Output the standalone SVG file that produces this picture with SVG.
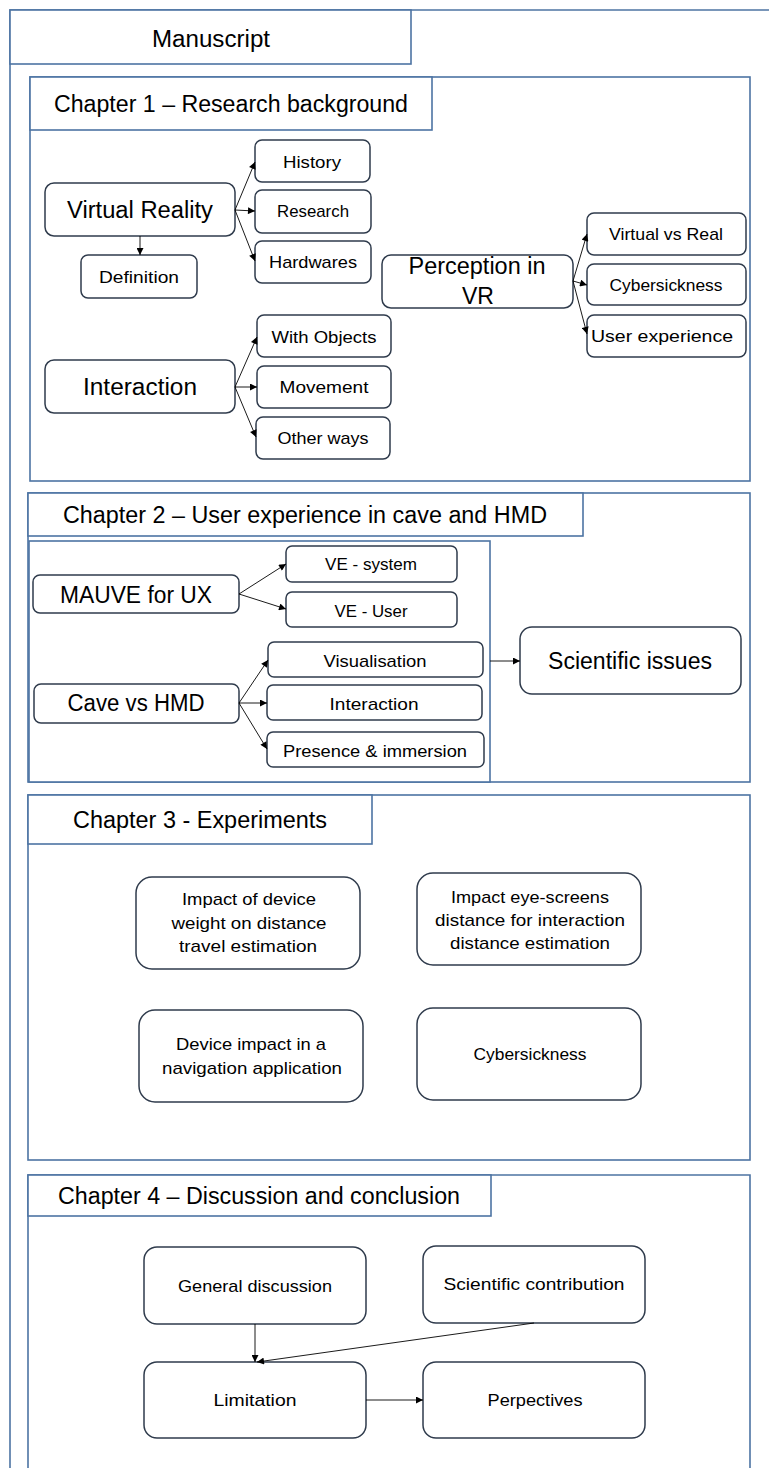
<svg xmlns="http://www.w3.org/2000/svg" width="769" height="1468" viewBox="0 0 769 1468">
<style>
.frame{fill:#fff;stroke:#4d74a3;stroke-width:1.6}
.node{fill:#fff;stroke:#2f3b4c;stroke-width:1.5}
.t{font-family:"Liberation Sans",Arial,sans-serif;fill:#000;text-anchor:middle}
.big{font-size:23px}
.sm{font-size:17px}
.title{font-family:"Liberation Sans",Arial,sans-serif;fill:#000;font-size:23px}
.conn{fill:none;stroke:#000;stroke-width:0.9}
</style>
<defs>
<marker id="ah" viewBox="0 0 10 10" refX="10" refY="5" markerWidth="8" markerHeight="7" markerUnits="userSpaceOnUse" orient="auto"><path d="M0,0 L10,5 L0,10 z" fill="#000"/></marker>
</defs>
<rect width="769" height="1468" fill="#fff"/>
<g id="manuscript">
<path class="frame" d="M10,1470 V10 H771" fill="none"/>
<rect class="frame" x="10" y="10" width="401" height="54"/>
<text class="title" x="211" y="47" text-anchor="middle" textLength="118" lengthAdjust="spacingAndGlyphs">Manuscript</text>
</g>
<g id="chapter1">
<rect class="frame" x="30" y="77" width="720" height="404"/>
<rect class="frame" x="30" y="77" width="402" height="53"/>
<text class="title" x="54" y="112" textLength="354" lengthAdjust="spacingAndGlyphs">Chapter 1 – Research background</text>
</g>
<g id="chapter2">
<rect class="frame" x="28" y="493" width="722" height="289"/>
<rect class="frame" x="28" y="493" width="555" height="43"/>
<text class="title" x="63" y="523" textLength="484" lengthAdjust="spacingAndGlyphs">Chapter 2 – User experience in cave and HMD</text>
<rect id="ch2-inner" class="frame" x="29" y="541" width="461" height="241"/>
</g>
<g id="chapter3">
<rect class="frame" x="28" y="795" width="722" height="365"/>
<rect class="frame" x="28" y="795" width="344" height="49"/>
<text class="title" x="73" y="828" textLength="254" lengthAdjust="spacingAndGlyphs">Chapter 3 - Experiments</text>
</g>
<g id="chapter4">
<path class="frame" d="M28,1470 V1175 H750 V1470" fill="none"/>
<rect class="frame" x="28" y="1175" width="463" height="41"/>
<text class="title" x="58" y="1204" textLength="402" lengthAdjust="spacingAndGlyphs">Chapter 4 – Discussion and conclusion</text>
</g>

<g id="virtual-reality"><rect class="node" x="45" y="183" width="190" height="53" rx="9"/><text class="t big" x="140" y="218" textLength="146" lengthAdjust="spacingAndGlyphs">Virtual Reality</text></g>
<g id="history"><rect class="node" x="255" y="140" width="115" height="42" rx="7"/><text class="t sm" x="312" y="168" textLength="58" lengthAdjust="spacingAndGlyphs">History</text></g>
<g id="research"><rect class="node" x="255" y="190" width="116" height="43" rx="7"/><text class="t sm" x="313" y="217" textLength="72" lengthAdjust="spacingAndGlyphs">Research</text></g>
<g id="hardwares"><rect class="node" x="255" y="241" width="116" height="42" rx="7"/><text class="t sm" x="313" y="268" textLength="88" lengthAdjust="spacingAndGlyphs">Hardwares</text></g>
<g id="definition"><rect class="node" x="81" y="255" width="116" height="43" rx="7"/><text class="t sm" x="139" y="283" textLength="80" lengthAdjust="spacingAndGlyphs">Definition</text></g>
<g id="interaction"><rect class="node" x="45" y="360" width="190" height="53" rx="9"/><text class="t big" x="140" y="395" textLength="114" lengthAdjust="spacingAndGlyphs">Interaction</text></g>
<g id="with-objects"><rect class="node" x="257" y="315" width="134" height="42" rx="7"/><text class="t sm" x="324" y="343" textLength="105" lengthAdjust="spacingAndGlyphs">With Objects</text></g>
<g id="movement"><rect class="node" x="257" y="366" width="134" height="42" rx="7"/><text class="t sm" x="324" y="393" textLength="89" lengthAdjust="spacingAndGlyphs">Movement</text></g>
<g id="other-ways"><rect class="node" x="256" y="417" width="134" height="42" rx="7"/><text class="t sm" x="323" y="444" textLength="91" lengthAdjust="spacingAndGlyphs">Other ways</text></g>
<g id="perception"><rect class="node" x="382" y="255" width="191" height="53" rx="9"/><text class="t big" x="477" y="274" textLength="137" lengthAdjust="spacingAndGlyphs">Perception in</text><text class="t big" x="478" y="304">VR</text></g>
<g id="virtual-vs-real"><rect class="node" x="587" y="213" width="159" height="42" rx="7"/><text class="t sm" x="666" y="240" textLength="114" lengthAdjust="spacingAndGlyphs">Virtual vs Real</text></g>
<g id="cybersickness1"><rect class="node" x="587" y="264" width="159" height="41" rx="7"/><text class="t sm" x="666" y="291" textLength="113" lengthAdjust="spacingAndGlyphs">Cybersickness</text></g>
<g id="user-experience"><rect class="node" x="587" y="315" width="159" height="42" rx="7"/><text class="t sm" x="662" y="342" textLength="142" lengthAdjust="spacingAndGlyphs">User experience</text></g>

<g id="mauve"><rect class="node" x="33" y="575" width="206" height="38" rx="7"/><text class="t big" x="136" y="603" textLength="152" lengthAdjust="spacingAndGlyphs">MAUVE for UX</text></g>
<g id="ve-system"><rect class="node" x="286" y="546" width="171" height="36" rx="6"/><text class="t sm" x="371" y="570" textLength="92" lengthAdjust="spacingAndGlyphs">VE - system</text></g>
<g id="ve-user"><rect class="node" x="286" y="592" width="171" height="35" rx="6"/><text class="t sm" x="371" y="617" textLength="73" lengthAdjust="spacingAndGlyphs">VE - User</text></g>
<g id="cave-vs-hmd"><rect class="node" x="34" y="684" width="205" height="39" rx="7"/><text class="t big" x="136" y="711" textLength="137" lengthAdjust="spacingAndGlyphs">Cave vs HMD</text></g>
<g id="visualisation"><rect class="node" x="268" y="642" width="215" height="35" rx="6"/><text class="t sm" x="375" y="667" textLength="103" lengthAdjust="spacingAndGlyphs">Visualisation</text></g>
<g id="interaction2"><rect class="node" x="267" y="685" width="215" height="35" rx="6"/><text class="t sm" x="374" y="710" textLength="89" lengthAdjust="spacingAndGlyphs">Interaction</text></g>
<g id="presence"><rect class="node" x="267" y="732" width="217" height="35" rx="6"/><text class="t sm" x="375" y="757" textLength="184" lengthAdjust="spacingAndGlyphs">Presence &amp; immersion</text></g>
<g id="scientific-issues"><rect class="node" x="520" y="627" width="221" height="67" rx="12"/><text class="t big" x="630" y="669" textLength="164" lengthAdjust="spacingAndGlyphs">Scientific issues</text></g>

<g id="exp-weight"><rect class="node" x="136" y="877" width="224" height="92" rx="16"/><text class="t sm" x="249" y="905" textLength="134" lengthAdjust="spacingAndGlyphs">Impact of device</text><text class="t sm" x="249" y="929" textLength="155" lengthAdjust="spacingAndGlyphs">weight on distance</text><text class="t sm" x="248" y="952" textLength="138" lengthAdjust="spacingAndGlyphs">travel estimation</text></g>
<g id="exp-eye-screens"><rect class="node" x="417" y="873" width="224" height="92" rx="16"/><text class="t sm" x="530" y="903" textLength="158" lengthAdjust="spacingAndGlyphs">Impact eye-screens</text><text class="t sm" x="530" y="926" textLength="190" lengthAdjust="spacingAndGlyphs">distance for interaction</text><text class="t sm" x="530" y="949" textLength="160" lengthAdjust="spacingAndGlyphs">distance estimation</text></g>
<g id="exp-navigation"><rect class="node" x="139" y="1010" width="224" height="92" rx="16"/><text class="t sm" x="251" y="1050" textLength="150" lengthAdjust="spacingAndGlyphs">Device impact in a</text><text class="t sm" x="252" y="1074" textLength="180" lengthAdjust="spacingAndGlyphs">navigation application</text></g>
<g id="exp-cybersickness"><rect class="node" x="417" y="1008" width="224" height="92" rx="16"/><text class="t sm" x="530" y="1060" textLength="113" lengthAdjust="spacingAndGlyphs">Cybersickness</text></g>

<g id="general-discussion"><rect class="node" x="144" y="1247" width="222" height="77" rx="13"/><text class="t sm" x="255" y="1292" textLength="154" lengthAdjust="spacingAndGlyphs">General discussion</text></g>
<g id="scientific-contribution"><rect class="node" x="423" y="1246" width="222" height="77" rx="13"/><text class="t sm" x="534" y="1290" textLength="181" lengthAdjust="spacingAndGlyphs">Scientific contribution</text></g>
<g id="limitation"><rect class="node" x="144" y="1362" width="222" height="76" rx="13"/><text class="t sm" x="255" y="1406" textLength="83" lengthAdjust="spacingAndGlyphs">Limitation</text></g>
<g id="perpectives"><rect class="node" x="423" y="1362" width="222" height="76" rx="13"/><text class="t sm" x="535" y="1406" textLength="95" lengthAdjust="spacingAndGlyphs">Perpectives</text></g>

<g id="connectors">
<path class="conn" marker-end="url(#ah)" d="M235,210 L255,162"/>
<path class="conn" marker-end="url(#ah)" d="M235,210 L255,211"/>
<path class="conn" marker-end="url(#ah)" d="M235,210 L255,261"/>
<path class="conn" marker-end="url(#ah)" d="M140,236 L140,255"/>
<path class="conn" marker-end="url(#ah)" d="M235,387 L257,337"/>
<path class="conn" marker-end="url(#ah)" d="M235,387 L257,387"/>
<path class="conn" marker-end="url(#ah)" d="M235,387 L256,437"/>
<path class="conn" marker-end="url(#ah)" d="M573,281 L587,234"/>
<path class="conn" marker-end="url(#ah)" d="M573,281 L587,285"/>
<path class="conn" marker-end="url(#ah)" d="M573,281 L587,334"/>
<path class="conn" marker-end="url(#ah)" d="M239,594 L286,564"/>
<path class="conn" marker-end="url(#ah)" d="M239,594 L286,609"/>
<path class="conn" marker-end="url(#ah)" d="M239,703 L268,660"/>
<path class="conn" marker-end="url(#ah)" d="M239,703 L267,703"/>
<path class="conn" marker-end="url(#ah)" d="M239,703 L267,749"/>
<path class="conn" marker-end="url(#ah)" d="M490,661 L520,661"/>
<path class="conn" marker-end="url(#ah)" d="M255,1324 L255,1362"/>
<path class="conn" marker-end="url(#ah)" d="M534,1323 L257,1362"/>
<path class="conn" marker-end="url(#ah)" d="M366,1400 L423,1400"/>
</g>
</svg>
